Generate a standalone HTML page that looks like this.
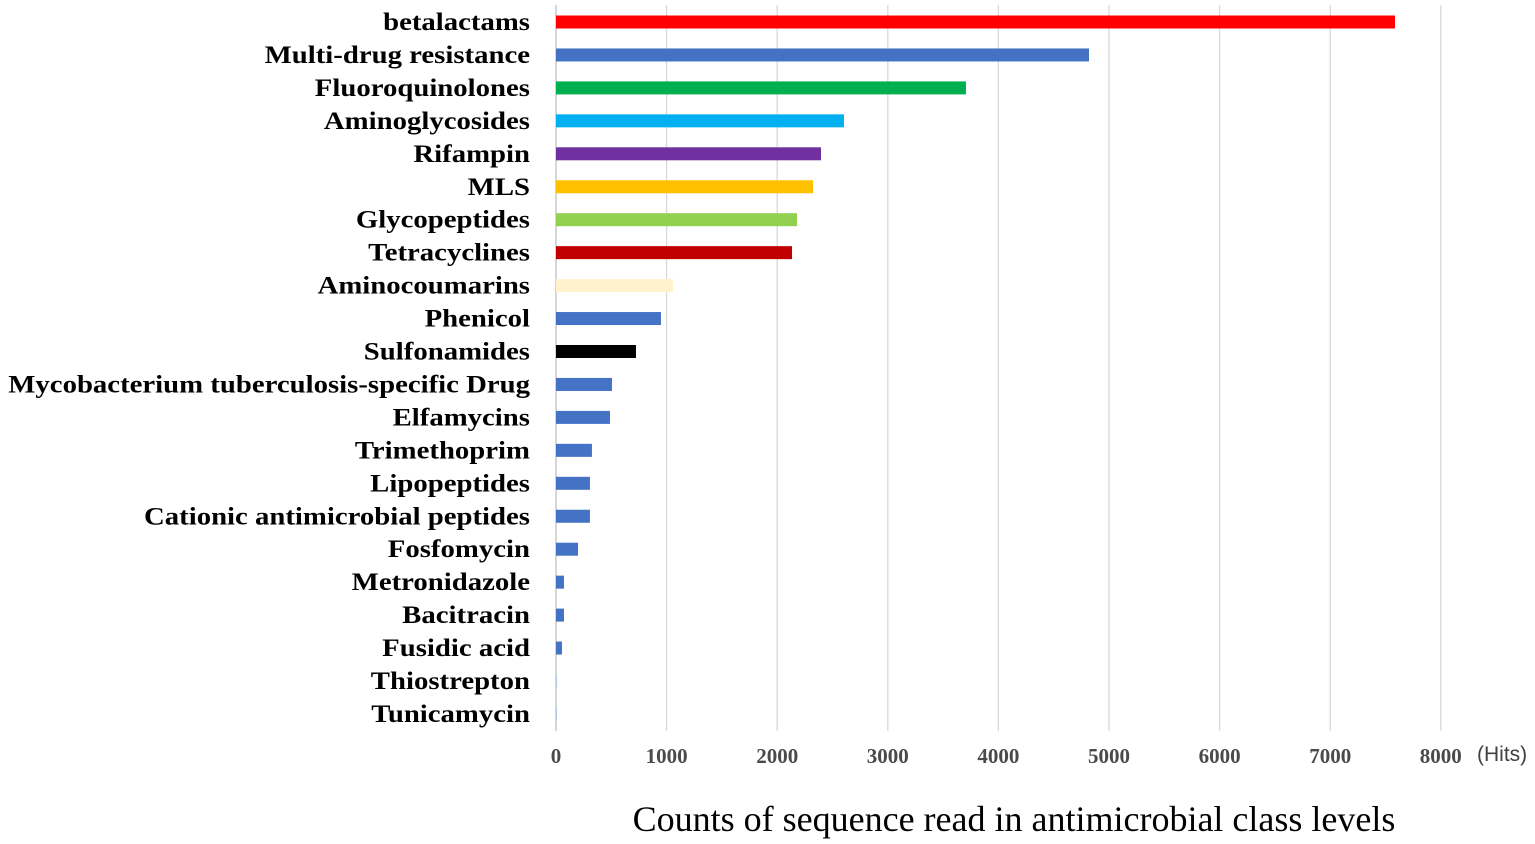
<!DOCTYPE html>
<html><head><meta charset="utf-8"><style>
html,body{margin:0;padding:0;background:#fff;}
svg{display:block;}
</style></head><body>
<svg id="chart" width="1535" height="844" xmlns="http://www.w3.org/2000/svg"></svg>
<script>
const categories = ["betalactams","Multi-drug resistance","Fluoroquinolones","Aminoglycosides","Rifampin","MLS","Glycopeptides","Tetracyclines","Aminocoumarins","Phenicol","Sulfonamides","Mycobacterium tuberculosis-specific Drug","Elfamycins","Trimethoprim","Lipopeptides","Cationic antimicrobial peptides","Fosfomycin","Metronidazole","Bacitracin","Fusidic acid","Thiostrepton","Tunicamycin"];
const values = [7586,4819,3707,2604,2396,2324,2179,2134,1058,949,723,506,488,325,307,307,199,72,72,54,9,9];
const colors = ["#ff0000","#4472c4","#00b050","#00b0f0","#7030a0","#ffc000","#92d050","#c00000","#fff2cc","#4472c4","#000000","#4472c4","#4472c4","#4472c4","#4472c4","#4472c4","#4472c4","#4472c4","#4472c4","#4472c4","#b4c7e7","#b4c7e7"];
const ticks = [0,1000,2000,3000,4000,5000,6000,7000,8000];
const NS="http://www.w3.org/2000/svg";
const svg=document.getElementById('chart');
const x0=556, pxPer=110.6/1000;
const xs=v=>x0+v*pxPer;
const y0=22, step=32.95;
const ys=i=>y0+i*step;
function mk(t,a){const e=document.createElementNS(NS,t);for(const k in a)e.setAttribute(k,a[k]);svg.appendChild(e);return e;}
ticks.forEach((t,i)=>{
  const l=mk('line',{x1:xs(t),x2:xs(t),y1:5,y2:731,stroke:t===0?'#bfbfbf':'#d9d9d9','stroke-width':1.3});
  
  
  const tx=mk('text',{x:xs(t),y:763,'text-anchor':'middle','font-family':'Liberation Serif, serif','font-weight':'bold','font-size':21,fill:'#4a4a4a'});
  tx.textContent=t;
  
  
});
categories.forEach((c,i)=>{
  const r=mk('rect',{x:x0,y:ys(i)-6.5,width:Math.max(1,xs(values[i])-x0),height:13,fill:colors[i]});
  
  
  const t=mk('text',{x:530,y:ys(i)+8,'text-anchor':'end','font-family':'Liberation Serif, serif','font-weight':'bold','font-size':25,fill:'#000'});
  t.textContent=c;
  
  
  const w=t.getComputedTextLength();
  t.setAttribute('textLength',(w*1.15).toFixed(1));
  t.setAttribute('lengthAdjust','spacingAndGlyphs');
});
const u=mk('text',{x:1477,y:761,'font-family':'Liberation Sans, sans-serif','font-size':21,fill:'#404040'});
u.textContent='(Hits)';


const ti=mk('text',{x:1014,y:831,'text-anchor':'middle','font-family':'Liberation Serif, serif','font-size':36,fill:'#000'});
ti.textContent='Counts of sequence read in antimicrobial class levels';


</script>
</body></html>
